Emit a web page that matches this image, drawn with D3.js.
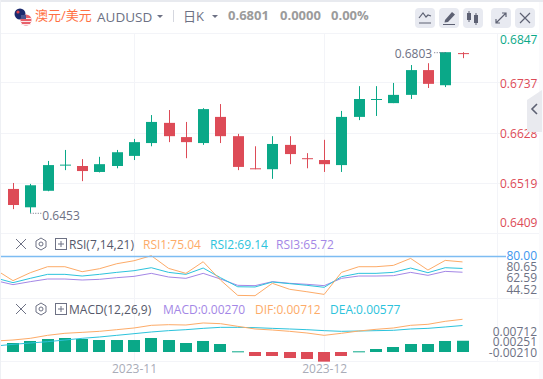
<!DOCTYPE html>
<html>
<head>
<meta charset="utf-8">
<script src="https://cdn.jsdelivr.net/npm/d3@7"></script>
<style>
  html, body { margin: 0; padding: 0; background: #fff; overflow: hidden; }
  svg { display: block; }
  text { font-family: "Open Sans", "Noto Sans CJK SC", sans-serif; }
  .axis .domain, .axis .tick line { display: none; }
</style>
</head>
<body>
<div id="chart"></div>
<script>
// Daily candles
const OPEN  = [.6505,.6465,.6501,.6557,.6555,.6542,.6555,.6577,.6605,.6649,.6618,.6605,.6662,.6620,.6550,.6548,.6601,.6572,.6568,.6557,.6662,.6700,.6692,.6710,.6764,.6731,.6801]
const CLOSE = [.6470,.6513,.6557,.6558,.6544,.6559,.6585,.6607,.6651,.6620,.6607,.6679,.6620,.6553,.6548,.6603,.6581,.6571,.6559,.6662,.6701,.6701,.6710,.6764,.6734,.6803,.6801]
const HIGH  = [.6518,.6516,.6566,.6590,.6570,.6575,.6590,.6614,.6666,.6677,.6651,.6681,.6690,.6625,.6598,.6620,.6620,.6583,.6612,.6675,.6729,.6729,.6736,.6775,.6779,.6803,.6803]
const LOW   = [.6461,.6453,.6500,.6546,.6522,.6541,.6550,.6568,.6598,.6607,.6572,.6601,.6605,.6546,.6548,.6527,.6559,.6550,.6542,.6542,.6655,.6664,.6692,.6701,.6725,.6727,.6790]
const PRICE_TICKS = [.6847,.6737,.6628,.6519,.6409]

// Indicator lines have one extra leading point: the bar just left of the visible window
const RSI1 = [68.0,58.1,65.3,70.7,70.7,66.2,68.9,73.4,76.1,80.65,69.2,64.7,75.2,58.7,44.8,44.52,55.7,50.3,48.1,45.7,65.6,70.7,70.7,71.9,78.2,67.7,76.4,75.04]
const RSI2 = [60.5,56.3,60.2,63.8,63.8,62.3,63.8,65.6,67.1,69.8,65.6,63.8,69.5,60.8,52.6,52.4,56.9,55.4,53.9,52.1,61.7,64.7,64.7,65.6,69.5,65.3,69.8,69.14]
const RSI3 = [58.1,54.5,57.2,59.6,59.6,58.7,59.3,60.8,62.0,64.7,61.4,60.2,64.7,59.6,53.9,53.6,57.2,55.7,54.8,53.6,60.2,62.3,62.3,62.6,65.6,62.9,66.5,65.72]
const DIF  = [.00240,.00261,.00298,.00363,.00407,.00428,.00450,.00486,.00523,.00581,.00595,.00588,.00632,.00617,.00559,.00501,.00479,.00450,.00414,.00363,.00407,.00457,.00494,.00523,.00581,.00603,.00668,.00712]
const DEA  = [.00131,.00167,.00196,.00225,.00261,.00298,.00327,.00363,.00399,.00436,.00465,.00486,.00515,.00537,.00537,.00530,.00515,.00501,.00486,.00465,.00450,.00457,.00465,.00472,.00501,.00515,.00545,.00577]
const MACD = [.00196,.00240,.00283,.00305,.00283,.00261,.00261,.00261,.00305,.00261,.00196,.00240,.00174,.00015,-.00087,-.00087,-.00131,-.00152,-.00210,-.00087,.00015,.00065,.00109,.00174,.00174,.00240,.00245]

const MONTH_TICKS = [7, 18]
const MONTH_LABELS = ['2023-11', '2023-12']
const RSI_LABELS = ['80.65', '62.59', '44.52']
const MACD_LABELS = ['0.00712', '0.00251', '-0.00210']

const UP = '#0aa888', DOWN = '#dd4b57'
const ORANGE = '#fdab68', CYAN = '#2cc3dc', PURPLE = '#a487e6'
const GRID = '#f3f4f8', AXIS_TEXT = '#6d7184'

const W = 543, H = 379
const plotL = 1, plotR = 497
const paneTop = 33, pricePaneBottom = 233, rsiPaneBottom = 298, macdPaneBottom = 361

const svg = d3.select('#chart').append('svg').attr('width', W).attr('height', H)

const x = d3.scaleLinear().domain([0, 26]).range([13, 462.5])
const yPrice = d3.scaleLinear().domain([.6409, .6847]).range([233, 32])
const yRsi = d3.scaleLinear().domain([44.52, 80.65]).range([295.7, 255.7])
const yMacd = d3.scaleLinear().domain([-.00196, .01176]).range([361, 298])

// Frame
svg.append('rect').attr('width', W).attr('height', H).attr('fill', '#fff')
svg.append('rect').attr('width', W).attr('height', 2).attr('fill', '#e8eaef')
svg.append('rect').attr('x', 0).attr('width', 1).attr('height', H).attr('fill', '#eef0f4')
svg.append('rect').attr('x', 539).attr('y', 2).attr('width', 4).attr('height', H).attr('fill', '#fafafc')

svg.append('clipPath').attr('id', 'plot-clip').append('rect')
  .attr('x', plotL).attr('y', paneTop).attr('width', plotR - plotL).attr('height', macdPaneBottom - paneTop)

// Gridlines
const grid = svg.append('g').attr('stroke', GRID).attr('stroke-width', 1)
grid.selectAll('.h')
  .data(PRICE_TICKS.slice(1, -1).map(d => yPrice(d)).concat([paneTop, pricePaneBottom, rsiPaneBottom, macdPaneBottom]))
  .join('line')
  .attr('x1', plotL).attr('x2', W - 4)
  .attr('y1', d => Math.round(d) + .5).attr('y2', d => Math.round(d) + .5)
grid.selectAll('.v')
  .data(MONTH_TICKS)
  .join('line')
  .attr('x1', d => Math.round(x(d)) + .5).attr('x2', d => Math.round(x(d)) + .5)
  .attr('y1', paneTop).attr('y2', macdPaneBottom)
grid.append('line').attr('x1', plotR + .5).attr('x2', plotR + .5).attr('y1', paneTop).attr('y2', macdPaneBottom)

// Candles
const candles = svg.append('g').selectAll('g').data(OPEN.map((o, i) => i)).join('g')
const candleColor = i => (CLOSE[i] >= OPEN[i] && i !== 26 ? UP : DOWN)
candles.append('line')
  .attr('x1', i => Math.round(x(i)) + .5).attr('x2', i => Math.round(x(i)) + .5)
  .attr('y1', i => yPrice(HIGH[i])).attr('y2', i => yPrice(LOW[i]))
  .attr('stroke', candleColor).attr('stroke-width', 1)
candles.append('rect')
  .attr('x', i => Math.round(x(i)) - 5)
  .attr('width', 11)
  .attr('y', i => yPrice(Math.max(OPEN[i], CLOSE[i])))
  .attr('height', i => Math.max(1, Math.abs(yPrice(OPEN[i]) - yPrice(CLOSE[i]))))
  .attr('fill', candleColor)

// High / low callouts
const hiX = x(25), loX = x(1)
svg.append('line')
  .attr('x1', hiX).attr('x2', hiX - 12).attr('y1', yPrice(.6803) + .5).attr('y2', yPrice(.6803) + .5)
  .attr('stroke', AXIS_TEXT).attr('stroke-dasharray', '1,1.5')
svg.append('text').attr('x', hiX - 13).attr('y', yPrice(.6803) + 6).attr('text-anchor', 'end')
  .attr('font-size', 12).attr('fill', AXIS_TEXT).text('0.6803')
svg.append('line')
  .attr('x1', loX).attr('x2', loX + 12).attr('y1', yPrice(.6453) + .5).attr('y2', yPrice(.6453) + .5)
  .attr('stroke', AXIS_TEXT).attr('stroke-dasharray', '1,1.5')
svg.append('text').attr('x', loX + 12).attr('y', yPrice(.6453) + 7)
  .attr('font-size', 12).attr('fill', AXIS_TEXT).text('0.6453')

// Price axis, first and last labels are pushed inside the pane
svg.append('g').attr('class', 'axis')
  .attr('transform', `translate(${plotR + 3},0)`)
  .call(d3.axisRight(yPrice).tickValues(PRICE_TICKS).tickFormat(d3.format('.4f')).tickSize(0).tickPadding(0))
  .call(g => g.selectAll('.tick text')
    .attr('font-size', 12).attr('font-family', '"Open Sans",sans-serif')
    .attr('fill', d => (d === PRICE_TICKS[0] ? UP : DOWN))
    .attr('y', d => (d === PRICE_TICKS[0] ? 8 : d === PRICE_TICKS[4] ? -10 : 1)))

// RSI pane
const lineFrom = y => d3.line().x((d, i) => x(i - 1)).y(d => y(d))
const rsiLines = svg.append('g').attr('clip-path', 'url(#plot-clip)').attr('fill', 'none').attr('stroke-width', 1)
rsiLines.append('path').attr('d', lineFrom(yRsi)(RSI3)).attr('stroke', PURPLE)
rsiLines.append('path').attr('d', lineFrom(yRsi)(RSI2)).attr('stroke', CYAN)
rsiLines.append('path').attr('d', lineFrom(yRsi)(RSI1)).attr('stroke', ORANGE)
svg.append('line').attr('x1', plotL).attr('x2', 506).attr('y1', yRsi(80)).attr('y2', yRsi(80))
  .attr('stroke', '#7dbcf2').attr('stroke-width', 1.5)
svg.append('text').attr('x', 537).attr('y', yRsi(80) + 4).attr('text-anchor', 'end')
  .attr('font-size', 12).attr('fill', '#3a96ee').text('80.00')
svg.append('g').selectAll('text').data(RSI_LABELS).join('text')
  .attr('x', 537).attr('y', (d, i) => 271 + i * 11.4).attr('text-anchor', 'end')
  .attr('font-size', 12).attr('fill', AXIS_TEXT).text(d => d)

// MACD pane
svg.append('g').selectAll('rect').data(MACD).join('rect')
  .attr('x', (d, i) => Math.round(x(i)) - 6)
  .attr('width', 12)
  .attr('y', d => (d >= 0 ? yMacd(d) : yMacd(0)))
  .attr('height', d => Math.max(1, Math.abs(yMacd(d) - yMacd(0))))
  .attr('fill', d => (d >= 0 ? UP : DOWN))
const macdLines = svg.append('g').attr('clip-path', 'url(#plot-clip)').attr('fill', 'none').attr('stroke-width', 1)
macdLines.append('path').attr('d', lineFrom(yMacd)(DEA)).attr('stroke', CYAN)
macdLines.append('path').attr('d', lineFrom(yMacd)(DIF)).attr('stroke', ORANGE)
svg.append('g').selectAll('text').data(MACD_LABELS).join('text')
  .attr('x', 537).attr('y', (d, i) => 335.5 + i * 10.8).attr('text-anchor', 'end')
  .attr('font-size', 12).attr('fill', AXIS_TEXT).text(d => d)

// Time axis
svg.append('g').attr('class', 'axis')
  .attr('transform', `translate(0,${macdPaneBottom})`)
  .call(d3.axisBottom(x).tickValues(MONTH_TICKS).tickFormat((d, i) => MONTH_LABELS[i]).tickSize(0).tickPadding(3))
  .call(g => g.selectAll('.tick text')
    .attr('font-size', 12).attr('font-family', '"Open Sans",sans-serif').attr('fill', '#a9acb8'))

// Indicator legends
function paneLegend(cy, items) {
  const icons = svg.append('g').attr('stroke', AXIS_TEXT).attr('fill', 'none').attr('stroke-width', 1)
  icons.append('path').attr('d', `M16 ${cy - 5}L26 ${cy + 5}M26 ${cy - 5}L16 ${cy + 5}`)
  icons.append('path').attr('d', `M41 ${cy - 6}L46 ${cy - 3}V${cy + 3}L41 ${cy + 6}L36 ${cy + 3}V${cy - 3}Z`)
  icons.append('circle').attr('cx', 41).attr('cy', cy).attr('r', 2)
  icons.append('rect').attr('x', 55.5).attr('y', cy - 5.5).attr('width', 11).attr('height', 11)
  icons.append('path').attr('d', `M58 ${cy}H64M61 ${cy - 3}V${cy + 3}`)
  svg.append('g').selectAll('text').data(items).join('text')
    .attr('x', d => d.x).attr('y', cy + 4.5)
    .attr('font-size', 12).attr('fill', d => d.color).text(d => d.text)
}
paneLegend(244, [
  { x: 69, color: '#55586a', text: 'RSI(7,14,21)' },
  { x: 143, color: ORANGE, text: 'RSI1:75.04' },
  { x: 210, color: CYAN, text: 'RSI2:69.14' },
  { x: 276, color: PURPLE, text: 'RSI3:65.72' }
])
paneLegend(309, [
  { x: 69, color: '#55586a', text: 'MACD(12,26,9)' },
  { x: 163, color: PURPLE, text: 'MACD:0.00270' },
  { x: 255, color: ORANGE, text: 'DIF:0.00712' },
  { x: 330, color: CYAN, text: 'DEA:0.00577' }
])

// Header
const head = svg.append('g')
const flagAu = head.append('g')
flagAu.append('circle').attr('cx', 20).attr('cy', 14).attr('r', 5.5).attr('fill', '#1c2a6e')
flagAu.append('circle').attr('cx', 18).attr('cy', 12).attr('r', 1.6).attr('fill', '#d9434e')
const flagUs = head.append('g')
flagUs.append('circle').attr('cx', 26).attr('cy', 20).attr('r', 5.5).attr('fill', '#e8606a')
flagUs.selectAll('rect').data([18, 21, 24]).join('rect')
  .attr('x', 21).attr('y', d => d).attr('width', 10).attr('height', 1).attr('fill', '#fbe9ea')
flagUs.append('rect').attr('x', 21).attr('y', 15).attr('width', 5).attr('height', 4).attr('fill', '#4a5590')

head.append('text').attr('x', 35).attr('y', 20).attr('font-size', 13)
  .attr('font-family', '"Noto Sans CJK SC",sans-serif').attr('fill', '#ff7043').text('澳元/美元')
head.append('text').attr('x', 97).attr('y', 21.5).attr('font-size', 13.5).attr('fill', AXIS_TEXT).text('AUDUSD')
head.append('text').attr('x', 183).attr('y', 20.5).attr('font-size', 13)
  .attr('font-family', '"Noto Sans CJK SC",sans-serif').attr('fill', AXIS_TEXT).text('日K')
head.selectAll('.caret').data([160, 215]).join('path').attr('class', 'caret')
  .attr('d', d => `M${d - 3} 15H${d + 3}L${d} 18Z`).attr('fill', AXIS_TEXT)
head.append('line').attr('x1', 173.5).attr('x2', 173.5).attr('y1', 10).attr('y2', 22).attr('stroke', '#d5d7df')
head.selectAll('.quote')
  .data([{ x: 228, t: '0.6801' }, { x: 280, t: '0.0000' }, { x: 331, t: '0.00%' }])
  .join('text').attr('class', 'quote')
  .attr('x', d => d.x).attr('y', 20).attr('font-size', 13).attr('font-weight', 700)
  .attr('fill', '#9b9b9b').text(d => d.t)

// Toolbar buttons
const BTN_X = [415, 439, 463, 491, 515]
const btn = head.selectAll('.btn').data(BTN_X).join('g').attr('class', 'btn')
  .attr('transform', d => `translate(${d},8)`)
btn.append('rect').attr('width', 20).attr('height', 20).attr('rx', 4).attr('fill', '#e8eaf1')
const btnInk = '#5d6173'
head.append('path').attr('transform', 'translate(415,8)')
  .attr('d', 'M4 10L8 5L11 9L13 7L16 8M4 15H16').attr('fill', 'none').attr('stroke', btnInk).attr('stroke-width', 1.2)
head.append('path').attr('transform', 'translate(439,8)')
  .attr('d', 'M6 12L13 4L16 6.5L9 14L5.5 14.5ZM4 16H16V17H4Z').attr('fill', btnInk)
head.append('path').attr('transform', 'translate(463,8)')
  .attr('d', 'M4 5H8V12H4ZM5.5 3H6.5V14H5.5ZM11 7H15V15H11ZM12.5 5H13.5V17H12.5Z').attr('fill', btnInk)
head.append('path').attr('transform', 'translate(491,8)')
  .attr('d', 'M5 15L15 5M11 5H15V9M5 11V15H9').attr('fill', 'none').attr('stroke', btnInk).attr('stroke-width', 1.2)
head.append('path').attr('transform', 'translate(515,8)')
  .attr('d', 'M5 5L15 15M15 5L5 15').attr('fill', 'none').attr('stroke', btnInk).attr('stroke-width', 1.2)

// Collapse tab on the right edge
svg.append('path').attr('d', 'M527 100L542 90V132H527Z').attr('fill', '#e9eaef')
svg.append('path').attr('d', 'M537 104L532 109L537 114').attr('fill', 'none').attr('stroke', '#5d6173').attr('stroke-width', 1.6)
</script>
</body>
</html>
